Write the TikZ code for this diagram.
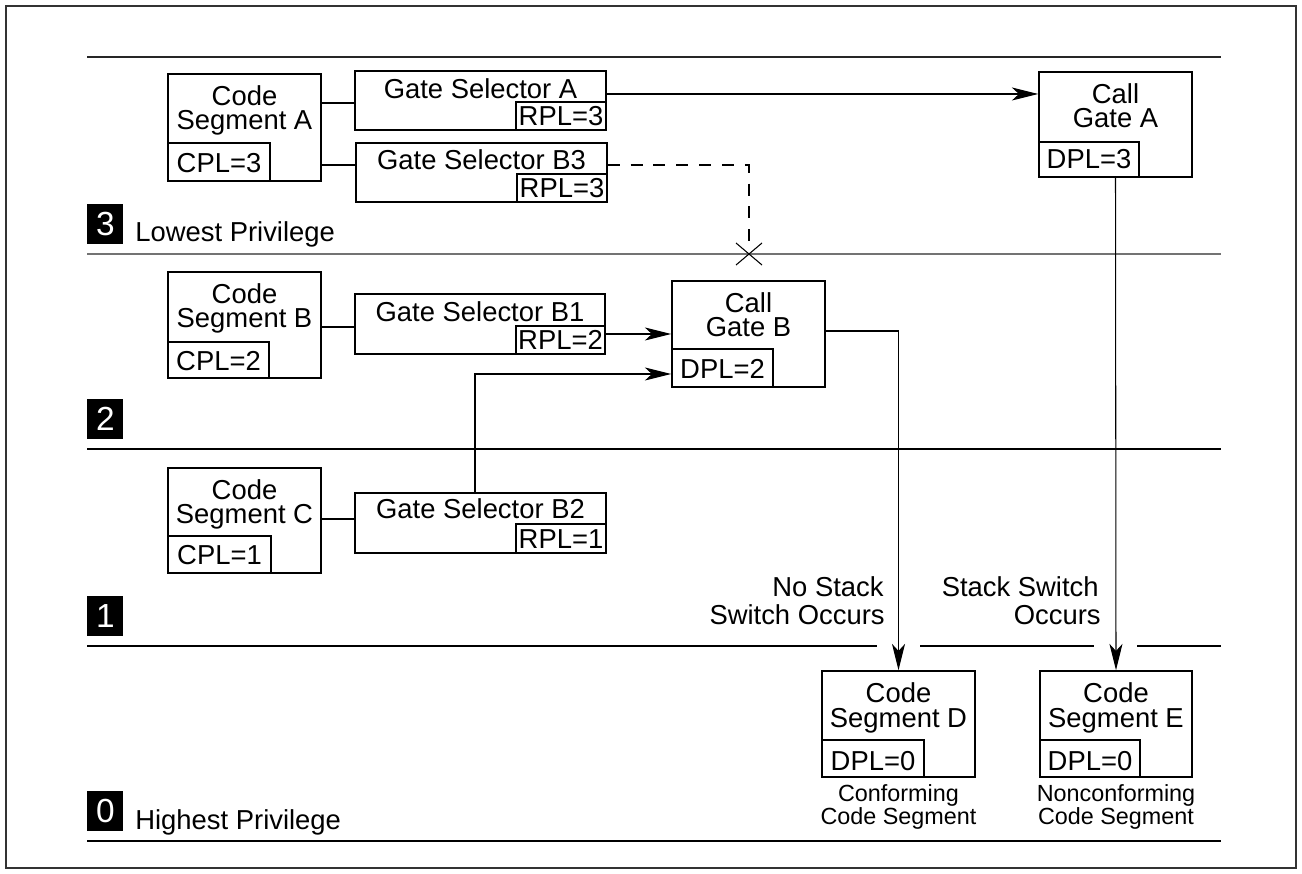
\documentclass[tikz,border=0pt]{standalone}
\usepackage{fontspec}
\setmainfont{Liberation Sans}
\usetikzlibrary{arrows.meta,fit}
\newcommand{\mytwol}[3][14.2pt]{\vbox{\baselineskip=#1\lineskiplimit=-30pt\lineskip=0pt\halign{\hfil##\hfil\cr #2\cr #3\cr}}}
\begin{document}
\begin{tikzpicture}[x=0.02cm,y=-0.02cm,
  box/.style={draw, line width=0.85pt, inner sep=0pt},
  txt/.style={inner sep=0pt, anchor=base, font=\fontsize{15.6}{18}\selectfont},
  rtxt/.style={txt, anchor=base east},
  small/.style={inner sep=0pt, anchor=base, font=\fontsize{13.3}{16}\selectfont},
  lvl/.style={fill=black, text=white, inner sep=0pt, minimum width=0.72cm, minimum height=0.8cm, anchor=south west, font=\fontsize{19}{22}\selectfont},
  lvltxt/.style={inner sep=0pt, anchor=base west, font=\fontsize{15.6}{18}\selectfont},
  conn/.style={draw, line width=0.6pt},
  arr/.style={draw, line width=0.6pt, -{Stealth[length=15pt,width=7.4pt,inset=4pt]}},
  dsh/.style={draw, line width=0.6pt, dash pattern=on 6.8pt off 6.2pt},
  level/.style={draw, line width=0.7pt},
]
\useasboundingbox (0,0) rectangle (1302,874);
% frame and level lines
\draw[line width=1.2pt, black!80] (6,6) rectangle (1296,868);
\draw[level, black!85] (87,57) -- (1221,57);
\draw[level, black!55, line width=1.2pt] (87,254) -- (1221,254);
\draw[level] (87,449) -- (1221,449);
\draw[level] (87,646) -- (877,646) (920,646) -- (1094,646) (1137,646) -- (1221,646);
\draw[level] (87,841) -- (1221,841);

% level labels
\node[lvl] (l3) at (87,244) {3};
\node[lvltxt] (l3t) at (135,242) {Lowest Privilege};
\node[lvl] (l2) at (87,439) {2};
\node[lvl] (l1) at (87,636) {1};
\node[lvl] (l0) at (87,831) {0};
\node[lvltxt] (l0t) at (135,829) {Highest Privilege};

% Code Segment A
\node[box, fit={(168,74)(321,181)}] (csA) {};
\node[box, fit={(168,143)(270,181)}] (csAp) {};
\node[txt] (csAt) at (244.5,130) {\mytwol{Code}{Segment A}};
\node[txt] (csAt3) at (219,173) {CPL=3};

% Gate Selector A
\node[box, fit={(355,71)(606,130)}] (gsA) {};
\node[box, fit={(516,102)(606,130)}] (gsAp) {};
\node[txt] (gsAt) at (480.5,99) {Gate Selector A};
\node[txt] (gsAr) at (561,126) {RPL=3};

% Gate Selector B3
\node[box, fit={(356,143)(607,202)}] (gsB3) {};
\node[box, fit={(517,174)(607,202)}] (gsB3p) {};
\node[txt] (gsB3t) at (481.5,170) {Gate Selector B3};
\node[txt] (gsB3r) at (562,198) {RPL=3};

% Call Gate A
\node[box, fit={(1039,72)(1192,177)}] (cgA) {};
\node[box, fit={(1039,142)(1139,177)}] (cgAp) {};
\node[txt] (cgAt) at (1115.5,128) {\mytwol{Call}{Gate A}};
\node[txt] (cgAt3) at (1089,169) {DPL=3};

% Code Segment B
\node[box, fit={(168,272)(321,378)}] (csB) {};
\node[box, fit={(168,342)(269,378)}] (csBp) {};
\node[txt] (csBt) at (244.5,328) {\mytwol{Code}{Segment B}};
\node[txt] (csBt3) at (218.5,371) {CPL=2};

% Gate Selector B1
\node[box, fit={(355,294)(605,354)}] (gsB1) {};
\node[box, fit={(516,326)(605,354)}] (gsB1p) {};
\node[txt] (gsB1t) at (480,322) {Gate Selector B1};
\node[txt] (gsB1r) at (560.5,350) {RPL=2};

% Call Gate B
\node[box, fit={(672,281)(825,387)}] (cgB) {};
\node[box, fit={(672,349)(773,387)}] (cgBp) {};
\node[txt] (cgBt) at (748.5,337) {\mytwol{Call}{Gate B}};
\node[txt] (cgBt3) at (722.5,379) {DPL=2};

% Code Segment C
\node[box, fit={(168,468)(321,573)}] (csC) {};
\node[box, fit={(168,536)(271,573)}] (csCp) {};
\node[txt] (csCt) at (244.5,524) {\mytwol{Code}{Segment C}};
\node[txt] (csCt3) at (219.5,565) {CPL=1};

% Gate Selector B2
\node[box, fit={(355,493)(606,553)}] (gsB2) {};
\node[box, fit={(516,524)(606,553)}] (gsB2p) {};
\node[txt] (gsB2t) at (480.5,519) {Gate Selector B2};
\node[txt] (gsB2r) at (561,549) {RPL=1};

% Code Segment D
\node[box, fit={(822,671)(975,777)}] (csD) {};
\node[box, fit={(822,740)(924,777)}] (csDp) {};
\node[txt] (csDt) at (898.5,727) {\mytwol{Code}{Segment D}};
\node[txt] (csDt3) at (873,770) {DPL=0};
\node[small] (csDc) at (898.5,824) {\mytwol[13pt]{Conforming}{Code Segment}};

% Code Segment E
\node[box, fit={(1040,671)(1192,777)}] (csE) {};
\node[box, fit={(1040,740)(1140,777)}] (csEp) {};
\node[txt] (csEt) at (1116,727) {\mytwol{Code}{Segment E}};
\node[txt] (csEt3) at (1090,770) {DPL=0};
\node[small] (csEc) at (1116,824) {\mytwol[13pt]{Nonconforming}{Code Segment}};

% switch labels
\node[rtxt] (ns1) at (884,597) {No Stack};
\node[rtxt] (ns2) at (885,624) {Switch Occurs};
\node[rtxt] (ss1) at (1099,597) {Stack Switch};
\node[rtxt] (ss2) at (1101,624) {Occurs};

% connectors
\draw[conn] (csA.east |- 0,103) -- (gsA.west |- 0,103);
\draw[conn] (csA.east |- 0,165) -- (gsB3.west |- 0,165);
\draw[conn] (csB.east |- 0,327) -- (gsB1.west |- 0,327);
\draw[conn] (csC.east |- 0,519) -- (gsB2.west |- 0,519);

\draw[arr] (gsA.east |- 0,94) -- (cgA.west |- 0,94);
\draw[arr] (gsB1.east |- 0,334) -- (cgB.west |- 0,334);
\draw[arr] (gsB2.north -| 475,0) |- (cgB.west |- 0,374);
\draw[arr] (cgB.east |- 0,331) -| (csD.north);
\draw[arr] (cgA.south) -- (csE.north);

% blocked call
\coordinate (xc) at (749,254);
\draw[dsh] (gsB3.east |- 0,165) -| (749,242);
\draw[line width=0.6pt] (736,243) -- (762,265) (736,265) -- (762,243);
\end{tikzpicture}
\end{document}
